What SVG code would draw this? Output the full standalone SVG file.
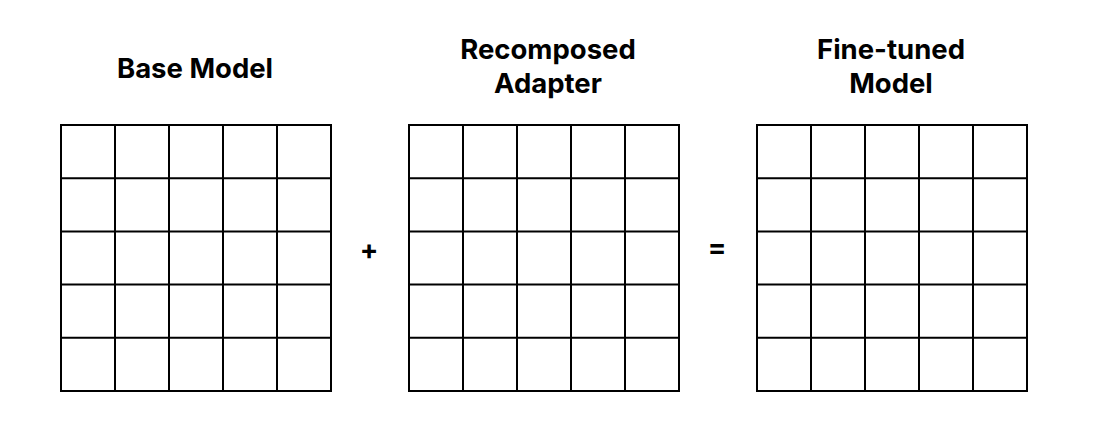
<svg xmlns="http://www.w3.org/2000/svg" width="1116" height="434" viewBox="0 0 1116 434">
<defs>
<style>
.t{font-family:Inter,"Liberation Sans",sans-serif;font-weight:700;font-size:27.5px;fill:#000;text-anchor:middle}
.g{fill:none;stroke:#000;stroke-width:2}
</style>
<g id="grid">
<rect class="g" x="0" y="0" width="270" height="266"/>
<path class="g" d="M54 0V266M108 0V266M162 0V266M216 0V266M0 53.2H270M0 106.4H270M0 159.6H270M0 212.8H270"/>
</g>
</defs>
<rect width="1116" height="434" fill="#fff"/>
<g id="base-model">
<text class="t" x="195" y="78">Base Model</text>
<use href="#grid" x="61" y="125"/>
</g>
<g id="recomposed-adapter">
<text class="t" x="548" y="59">Recomposed</text>
<text class="t" x="548" y="93">Adapter</text>
<use href="#grid" x="409" y="125"/>
</g>
<g id="fine-tuned-model">
<text class="t" x="891" y="59">Fine-tuned</text>
<text class="t" x="891" y="93">Model</text>
<use href="#grid" x="757" y="125"/>
</g>
<g id="connectors">
<text class="t" x="369" y="259">+</text>
<text class="t" x="717" y="257">=</text>
</g>
</svg>
